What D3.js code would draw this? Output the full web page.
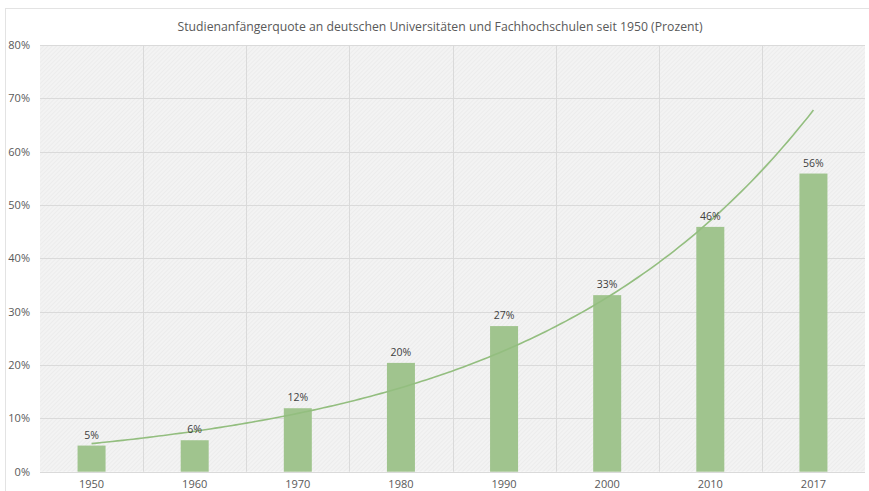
<!DOCTYPE html>
<html>
<head>
<meta charset="utf-8">
<script src="https://cdn.jsdelivr.net/npm/d3@7"></script>
<style>
  body { margin: 0; background: #fff; }
  svg { display: block; font-family: "Open Sans", sans-serif; }
</style>
</head>
<body>
<div id="chart"></div>
<script>
// Studienanfängerquote chart

const years = ['1950', '1960', '1970', '1980', '1990', '2000', '2010', '2017'];
const rates = [4.9, 5.9, 11.9, 20.4, 27.3, 33.1, 45.9, 55.9];
const valueLabels = ['5%', '6%', '12%', '20%', '27%', '33%', '46%', '56%'];
const yTicks = [0, 10, 20, 30, 40, 50, 60, 70, 80];
const title = 'Studienanfängerquote an deutschen Universitäten und Fachhochschulen seit 1950 (Prozent)';

const width = 869, height = 491;
const margin = { top: 45, right: 4, bottom: 19, left: 40 };

const svg = d3.select('#chart').append('svg')
  .attr('width', width)
  .attr('height', height);

// hatch pattern for plot area
const defs = svg.append('defs');
const pat = defs.append('pattern')
  .attr('id', 'hatch')
  .attr('width', 3).attr('height', 3)
  .attr('patternUnits', 'userSpaceOnUse')
  .attr('patternTransform', 'rotate(45)');
pat.append('rect').attr('width', 3).attr('height', 3).attr('fill', '#f3f3f3');
pat.append('line').attr('x1', 0).attr('y1', 0).attr('x2', 0).attr('y2', 3)
  .attr('stroke', '#e6e6e6').attr('stroke-width', 1);

// chart border
svg.append('rect')
  .attr('x', 5.5).attr('y', 8.5)
  .attr('width', width - 4).attr('height', height)
  .attr('fill', '#fff')
  .attr('stroke', '#e3e3e3');

const x = d3.scaleBand()
  .domain(years)
  .range([margin.left, width - margin.right]);

const y = d3.scaleLinear()
  .domain([0, 80])
  .range([height - margin.bottom - 0.3, margin.top]);

// plot area
svg.append('rect')
  .attr('x', x.range()[0]).attr('y', y(80))
  .attr('width', x.range()[1] - x.range()[0])
  .attr('height', y(0) - y(80))
  .attr('fill', 'url(#hatch)');

// horizontal grid
svg.append('g')
  .selectAll('line')
  .data(yTicks)
  .join('line')
  .attr('x1', x.range()[0]).attr('x2', x.range()[1])
  .attr('y1', d => Math.round(y(d)) + 0.5)
  .attr('y2', d => Math.round(y(d)) + 0.5)
  .attr('stroke', '#dadada');

// vertical grid at category boundaries
svg.append('g')
  .selectAll('line')
  .data(years.slice(1))
  .join('line')
  .attr('x1', d => Math.round(x(d)) + 0.5)
  .attr('x2', d => Math.round(x(d)) + 0.5)
  .attr('y1', y(80)).attr('y2', y(0))
  .attr('stroke', '#dadada');

// y axis labels
const yAxis = svg.append('g')
  .attr('transform', `translate(${margin.left - 10},0)`)
  .call(d3.axisLeft(y).tickValues(yTicks).tickSize(0).tickFormat(d => d + '%'));
yAxis.select('.domain').remove();
yAxis.selectAll('text')
  .attr('x', 0)
  .attr('fill', '#595959')
  .style('font-size', '11px')
  .style('font-family', '"Open Sans", sans-serif');

// x axis labels
const xAxis = svg.append('g')
  .attr('transform', `translate(0,${y(0)})`)
  .call(d3.axisBottom(x).tickSize(0));
xAxis.select('.domain').remove();
xAxis.selectAll('text')
  .attr('y', 9)
  .attr('fill', '#595959')
  .style('font-size', '11px')
  .style('font-family', '"Open Sans", sans-serif');

// bars
const barW = 28;
svg.append('g')
  .selectAll('rect')
  .data(years)
  .join('rect')
  .attr('x', d => x(d) + x.bandwidth() / 2 - barW / 2)
  .attr('y', (d, i) => y(rates[i]))
  .attr('width', barW)
  .attr('height', (d, i) => y(0) - y(rates[i]))
  .attr('fill', '#a0c48e');

// exponential trendline (least-squares fit on ln values, like the spreadsheet)
const n = rates.length;
const idx = d3.range(1, n + 1);
const lnv = rates.map(Math.log);
const mx = d3.mean(idx), my = d3.mean(lnv);
const b = d3.sum(idx, (v, i) => (v - mx) * (lnv[i] - my)) / d3.sum(idx, v => (v - mx) ** 2);
const a = my - b * mx;
const xi = d3.scaleLinear()
  .domain([1, n])
  .range([x(years[0]) + x.bandwidth() / 2, x(years[n - 1]) + x.bandwidth() / 2]);
const samples = d3.range(1, n + 0.001, 0.05);
svg.append('path')
  .datum(samples)
  .attr('fill', 'none')
  .attr('stroke', '#93be7f')
  .attr('stroke-width', 1.6)
  .attr('d', d3.line().x(t => xi(t)).y(t => y(Math.exp(a + b * t))));

// value labels
svg.append('g')
  .selectAll('text')
  .data(years)
  .join('text')
  .attr('x', d => x(d) + x.bandwidth() / 2)
  .attr('y', (d, i) => y(rates[i]) - 7)
  .attr('text-anchor', 'middle')
  .attr('fill', '#404040')
  .style('font-size', '10.5px')
  .text((d, i) => valueLabels[i]);

// title
svg.append('text')
  .attr('x', 440)
  .attr('y', 31)
  .attr('text-anchor', 'middle')
  .attr('fill', '#595959')
  .style('font-size', '13.5px')
  .attr('textLength', 525)
  .attr('lengthAdjust', 'spacingAndGlyphs')
  .text(title);
</script>
</body>
</html>
